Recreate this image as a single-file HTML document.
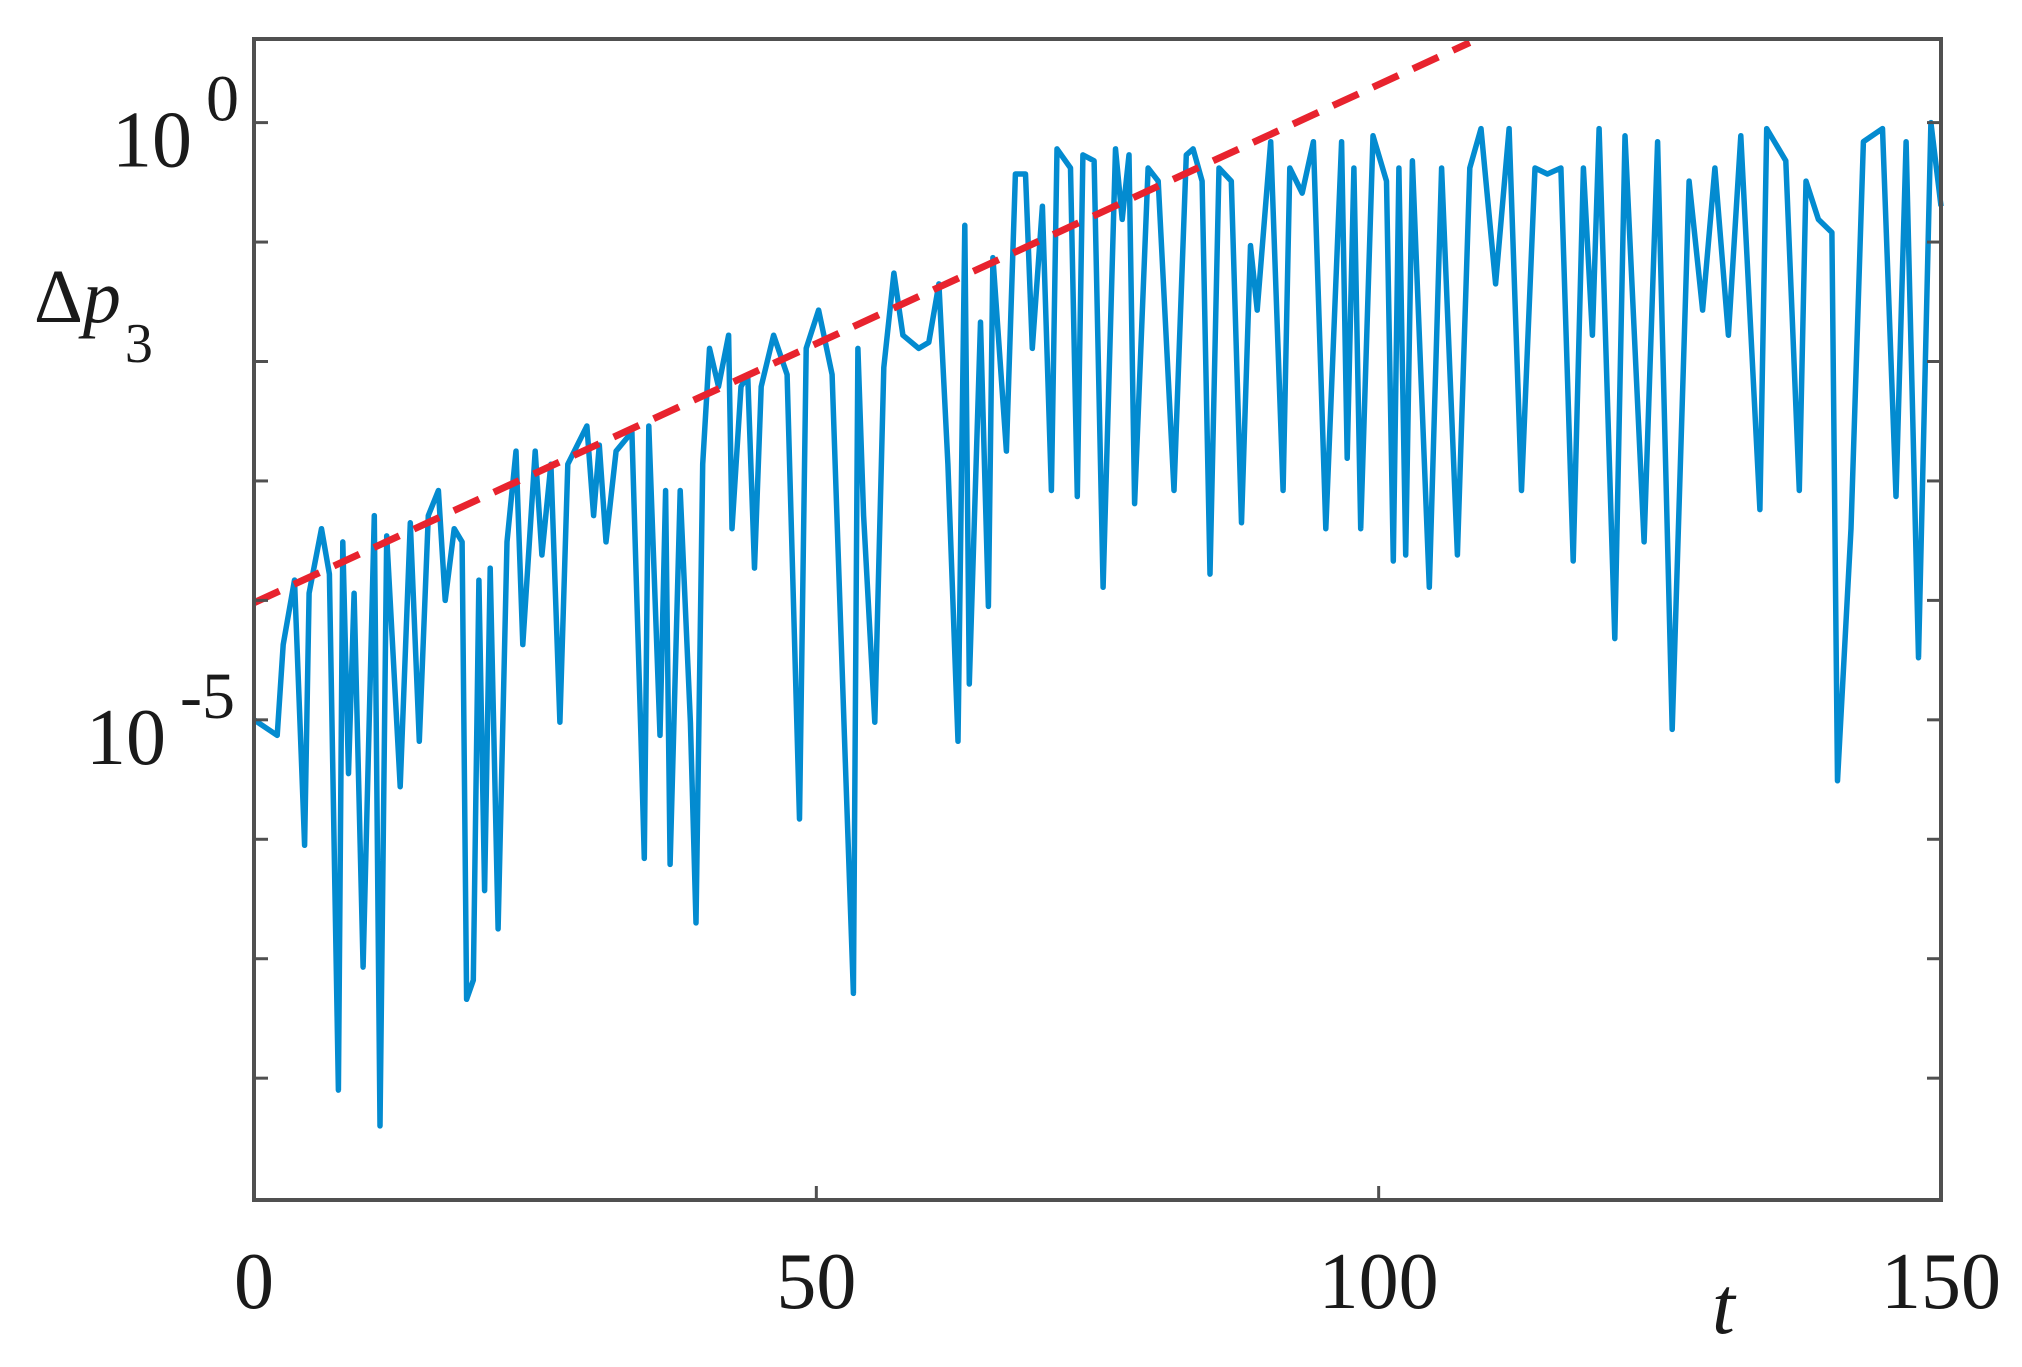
<!DOCTYPE html>
<html><head><meta charset="utf-8"><style>
html,body{margin:0;padding:0;background:#fff;}
svg{display:block;}
text{font-family:"Liberation Serif","Times New Roman",serif;}
</style></head><body>
<svg id="chart" width="2022" height="1367" viewBox="0 0 2022 1367" xmlns="http://www.w3.org/2000/svg">
<rect x="0" y="0" width="2022" height="1367" fill="#fff"/>
<g id="marks"></g>
<rect x="254" y="39" width="1687" height="1161" fill="none" stroke="#505050" stroke-width="4"/>
<g id="ticks"></g>
<text x="34" y="322" font-size="76" fill="#1a1a1a">Δ<tspan font-style="italic">p</tspan><tspan font-size="56" dx="4" dy="40">3</tspan></text>
<text x="1712" y="1333" font-size="82" font-style="italic" fill="#1a1a1a">t</text>
</svg>
<script>
const xTickVals = [0, 50, 100, 150];
const yDecades = [0, -1, -2, -3, -4, -5, -6, -7, -8];
const yLabelDecades = [0, -5];
const seriesT = [0,2.06,2.6,3.6,4.2,4.5,4.9,6.0,6.7,7.5,7.9,8.4,8.9,9.7,10.7,11.2,11.8,13.0,13.9,14.7,15.5,16.4,17.0,17.8,18.5,18.9,19.5,20.0,20.5,21.0,21.7,22.5,23.3,23.9,25.0,25.6,26.4,27.2,27.9,29.6,30.2,30.7,31.3,32.2,33.6,34.4,34.7,35.1,36.1,36.6,37.0,37.9,38.8,39.3,39.9,40.5,41.3,42.2,42.5,43.3,43.9,44.5,45.1,46.2,47.4,48.5,49.1,50.2,51.4,52.5,53.3,53.7,54.2,55.2,56.0,56.9,57.7,59.1,60.0,60.9,61.7,62.6,63.2,63.6,64.6,65.3,65.7,66.9,67.7,68.6,69.2,70.1,70.9,71.4,72.6,73.2,73.7,74.7,75.5,76.6,77.2,77.8,78.3,79.5,80.4,81.8,82.9,83.5,84.3,85.0,85.8,86.9,87.8,88.6,89.2,90.4,91.5,92.1,93.2,94.2,95.3,96.7,97.2,97.8,98.4,99.5,100.7,101.3,101.8,102.4,103.0,104.5,105.6,107.0,108.1,109.1,110.4,111.6,112.7,113.9,115.0,116.2,117.3,118.2,119.0,119.6,121.0,121.9,123.6,124.8,126.1,127.6,128.8,129.9,131.1,132.2,133.9,134.5,136.2,137.4,138.0,139.1,140.3,140.8,142.0,143.1,144.8,146.0,146.9,148.0,149.1,150];
const seriesLog = [-5.0,-5.13,-4.37,-3.83,-5.29,-6.05,-3.94,-3.4,-3.78,-8.1,-3.51,-5.45,-3.94,-7.07,-3.29,-8.4,-3.46,-5.56,-3.35,-5.18,-3.29,-3.08,-4.0,-3.4,-3.51,-7.34,-7.18,-3.83,-6.43,-3.73,-6.75,-3.51,-2.75,-4.37,-2.75,-3.62,-2.86,-5.02,-2.86,-2.54,-3.29,-2.7,-3.51,-2.75,-2.59,-5.13,-6.16,-2.54,-5.13,-3.08,-6.21,-3.08,-5.02,-6.7,-2.86,-1.89,-2.21,-1.78,-3.4,-2.21,-2.11,-3.73,-2.21,-1.78,-2.11,-5.83,-1.89,-1.57,-2.11,-5.13,-7.29,-1.89,-3.29,-5.02,-2.05,-1.26,-1.78,-1.89,-1.84,-1.35,-2.86,-5.18,-0.86,-4.7,-1.67,-4.05,-1.13,-2.75,-0.43,-0.43,-1.89,-0.7,-3.08,-0.22,-0.38,-3.13,-0.27,-0.32,-3.89,-0.22,-0.81,-0.27,-3.19,-0.38,-0.49,-3.08,-0.27,-0.22,-0.49,-3.78,-0.38,-0.49,-3.35,-1.03,-1.57,-0.16,-3.08,-0.38,-0.59,-0.16,-3.4,-0.16,-2.81,-0.38,-3.4,-0.11,-0.49,-3.67,-0.38,-3.62,-0.32,-3.89,-0.38,-3.62,-0.38,-0.05,-1.35,-0.05,-3.08,-0.38,-0.43,-0.38,-3.67,-0.38,-1.78,-0.05,-4.32,-0.11,-3.51,-0.16,-5.08,-0.49,-1.57,-0.38,-1.78,-0.11,-3.24,-0.05,-0.32,-3.08,-0.49,-0.81,-0.92,-5.51,-3.4,-0.16,-0.05,-3.13,-0.16,-4.48,0,-0.7];
const fitT = [0, 108.1];
const fitLog = [-4.02, 0.67];

const X0=254, X1=1941, Y0=39, Y1=1200, TMIN=0, TMAX=150, LMAX=0.70, LMIN=-9.02;
const xs = t => X0 + (t-TMIN)/(TMAX-TMIN)*(X1-X0);
const ys = l => Y0 + (LMAX-l)/(LMAX-LMIN)*(Y1-Y0);
const NS='http://www.w3.org/2000/svg';
const marks=document.getElementById('marks'), ticks=document.getElementById('ticks');

const blue=document.createElementNS(NS,'polyline');


blue.setAttribute('points', seriesT.map((t,i)=>xs(t).toFixed(1)+','+ys(seriesLog[i]).toFixed(1)).join(' '));
blue.setAttribute('fill','none'); blue.setAttribute('stroke','#038bd0'); blue.setAttribute('stroke-width','5.5'); blue.setAttribute('stroke-linejoin','round');
marks.appendChild(blue);

const red=document.createElementNS(NS,'line');


red.setAttribute('x1',xs(fitT[0])); red.setAttribute('y1',ys(fitLog[0]));
red.setAttribute('x2',xs(fitT[1])); red.setAttribute('y2',ys(fitLog[1]));
red.setAttribute('stroke','#e8232e'); red.setAttribute('stroke-width','7'); red.setAttribute('stroke-dasharray','28 16');
marks.appendChild(red);

xTickVals.forEach(v=>{
  const x=xs(v);
  const l=document.createElementNS(NS,'line');
  
  
  l.setAttribute('x1',x);l.setAttribute('x2',x);l.setAttribute('y1',Y1);l.setAttribute('y2',Y1-14);
  l.setAttribute('stroke','#505050');l.setAttribute('stroke-width','3');
  ticks.appendChild(l);
  const tx=document.createElementNS(NS,'text');
  
  
  tx.setAttribute('x',x);tx.setAttribute('y',1308);tx.setAttribute('font-size','80');tx.setAttribute('text-anchor','middle');tx.setAttribute('fill','#1a1a1a');
  tx.textContent=v;
  ticks.appendChild(tx);
});
yDecades.forEach(d=>{
  const y=ys(d);
  [[X0,X0+14],[X1,X1-14]].forEach(p=>{
    const l=document.createElementNS(NS,'line');
    
    
    l.setAttribute('x1',p[0]);l.setAttribute('x2',p[1]);l.setAttribute('y1',y);l.setAttribute('y2',y);
    l.setAttribute('stroke','#505050');l.setAttribute('stroke-width','3');
    ticks.appendChild(l);
  });
});
yLabelDecades.forEach(d=>{
  const y=ys(d);
  const tx=document.createElementNS(NS,'text');
  
  
  tx.setAttribute('x',112);tx.setAttribute('y',y+44);tx.setAttribute('font-size','80');tx.setAttribute('fill','#1a1a1a');
  const exp = d===0 ? '0' : '-'+Math.abs(d);
  tx.innerHTML='10<tspan font-size="66" dx="14" dy="-46">'+exp+'</tspan>';
  if (d!==0) tx.setAttribute('x',86);
  ticks.appendChild(tx);
});
</script>
</body></html>
